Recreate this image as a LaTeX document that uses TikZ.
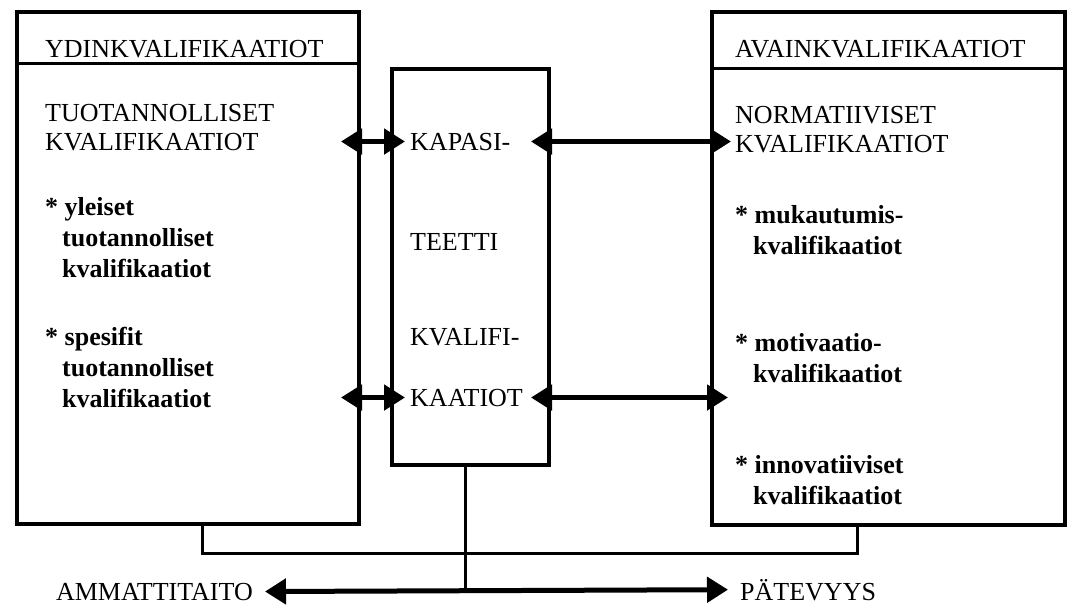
\documentclass[tikz,border=0pt]{standalone}
\usepackage{fontspec}
\setmainfont{Liberation Serif}
\usetikzlibrary{arrows.meta,positioning,calc}

\begin{document}
\begin{tikzpicture}[x=1pt,y=-1pt,
  box/.style={draw, line width=4pt, anchor=north west, inner sep=0pt},
  caps/.style={inner sep=0pt, align=left, font=\fontsize{26}{29}\selectfont},
  item/.style={inner sep=0pt, align=left, font=\fontsize{26}{31}\selectfont\bfseries},
  biarrow/.style={line width=5pt, {Triangle[length=21pt,width=25pt]}-{Triangle[length=21pt,width=25pt]}},
  link/.style={line width=3pt},
]
  \fill[white] (0,0) rectangle (1070,605);
  \useasboundingbox (0,0) rectangle (1070,605);
  % Boxes
  \node[box, minimum width=342pt, minimum height=512pt] (ydin) at (15,10) {};
  \node[box, minimum width=157pt, minimum height=396pt] (kapa) at (390,67) {};
  \node[box, minimum width=353pt, minimum height=513pt] (avain) at (710,10) {};
  % Header lines
  \draw[line width=3pt] ([yshift=-53pt]ydin.north west) -- ([yshift=-53pt]ydin.north east);
  \draw[line width=3pt] ([yshift=-58pt]avain.north west) -- ([yshift=-58pt]avain.north east);
  \node[caps, anchor=base west] (ydinhead) at (45,57) {YDINKVALIFIKAATIOT};
  \node[caps, anchor=base west] (avainhead) at (735,57) {AVAINKVALIFIKAATIOT};
  % Left column
  \node[caps, anchor=north west] (tuot) at (45,104.5) {TUOTANNOLLISET\\KVALIFIKAATIOT};
  \node[item, anchor=north west] (yleiset) at (45,197.5)
    {* yleiset\\\hspace*{17pt}tuotannolliset\\\hspace*{17pt}kvalifikaatiot};
  \node[item, anchor=north west] (spesifit) at (45,326.5)
    {* spesifit\\\hspace*{17pt}tuotannolliset\\\hspace*{17pt}kvalifikaatiot};
  % Middle column
  \node[caps, anchor=base west] (kapasi) at (410,150) {KAPASI-};
  \node[caps, anchor=base west] (teetti) at (410,250) {TEETTI};
  \node[caps, anchor=base west] (kvalifi) at (410,345) {KVALIFI-};
  \node[caps, anchor=base west] (kaatiot) at (410,406) {KAATIOT};
  % Right column
  \node[caps, anchor=north west] (norm) at (735,106.5) {NORMATIIVISET\\KVALIFIKAATIOT};
  \node[item, anchor=north west] (muk) at (735,205.5)
    {* mukautumis-\\\hspace*{18pt}kvalifikaatiot};
  \node[item, anchor=north west] (mot) at (735,333.5)
    {* motivaatio-\\\hspace*{18pt}kvalifikaatiot};
  \node[item, anchor=north west] (innov) at (735,455.5)
    {* innovatiiviset\\\hspace*{18pt}kvalifikaatiot};
  % Arrows between the boxes
  \draw[biarrow] ([xshift=-20pt]ydin.east |- kapasi.west) -- ([xshift=15pt]kapa.west |- kapasi.west);
  \draw[biarrow] ([xshift=-20pt]kapa.east |- kapasi.west) -- ([xshift=21pt]avain.west |- kapasi.west);
  \draw[biarrow] ([xshift=-20pt]ydin.east |- kaatiot.west) -- ([xshift=15pt]kapa.west |- kaatiot.west);
  \draw[biarrow] ([xshift=-20pt]kapa.east |- kaatiot.west) -- ([xshift=18pt]avain.west |- kaatiot.west);
  % Bottom
  \node[caps, anchor=base east] (ammat) at (253,600) {AMMATTITAITO};
  \node[caps, anchor=base west] (patev) at (740,600) {PÄTEVYYS};
  \coordinate (hub) at ([xshift=-5pt]kapa.south |- 0,553);
  \draw[link] ([xshift=14pt]ydin.south) |- (hub) -| ([xshift=-31pt]avain.south);
  \draw[line width=2.5pt] (kapa.south -| hub) -- (hub |- ammat.east);
  \draw[biarrow] ([xshift=12pt]ammat.east) -- ([xshift=-12pt]patev.west);
\end{tikzpicture}
\end{document}
